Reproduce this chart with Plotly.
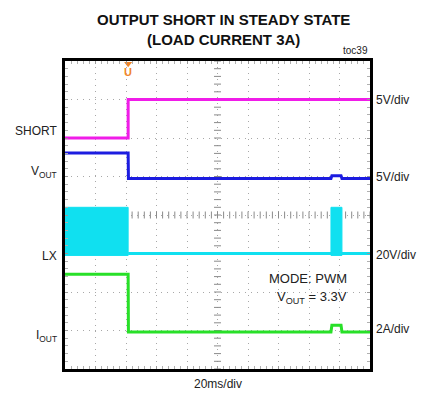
import numpy as np
import plotly.graph_objects as go

# ---- scope settings (divisions) ----
N_XDIV, N_YDIV = 10, 8
t_per_div = 20.0            # ms/div

# channel: (ground position in div, units per div)
ch_short = dict(ref=6.0, scale=5.0)
ch_vout = dict(ref=4.95, scale=5.0)
ch_lx = dict(ref=3.0, scale=20.0)
ch_iout = dict(ref=0.96, scale=2.0)

# ---- captured waveforms (time in ms) ----
t_short = [0, 41.4, 41.4, 200]
v_short = [0.0, 0.0, 5.0, 5.0]

t_vout = [0, 41.4, 41.6, 174.4, 175.0, 181.0, 181.6, 200]
v_vout = [3.3, 3.3, 0.0, 0.0, 0.35, 0.35, 0.0, 0.0]

t_iout = [0, 41.4, 41.6, 174.4, 175.0, 181.0, 181.6, 200]
i_iout = [3.0, 3.0, 0.0, 0.0, 0.35, 0.35, 0.0, 0.0]

# LX switching envelope (V): bursts drawn as filled bands
lx_bursts = [(0.0, 41.4), (174.4, 181.6)]
lx_high, lx_low = 24.0, -1.0
t_lx = [41.4, 200]
v_lx = [0.0, 0.0]


def to_div(vals, ch):
    return [ch["ref"] + v / ch["scale"] for v in vals]


def to_xdiv(ts):
    return [t / t_per_div for t in ts]


C_SHORT = "#F01CE8"
C_VOUT = "#1C1CE0"
C_LX = "#10E0F0"
C_IOUT = "#28E028"
C_TRIG = "#F0862A"

fig = go.Figure()

# graticule centre-line ticks
tick_pos = np.arange(0, N_XDIV + 0.001, 0.2)
fig.add_trace(go.Scatter(x=tick_pos, y=[N_YDIV / 2] * len(tick_pos), mode="markers",
                         marker=dict(symbol="line-ns", size=5, line=dict(color="#8a8a8a", width=1)),
                         hoverinfo="skip", showlegend=False))
ytick_pos = np.arange(0, N_YDIV + 0.001, 0.2)
fig.add_trace(go.Scatter(x=[N_XDIV / 2] * len(ytick_pos), y=ytick_pos, mode="markers",
                         marker=dict(symbol="line-ew", size=5, line=dict(color="#8a8a8a", width=1)),
                         hoverinfo="skip", showlegend=False))

# LX switching bursts
for t0, t1 in lx_bursts:
    xs = to_xdiv([t0, t1, t1, t0, t0])
    ys = to_div([lx_high, lx_high, lx_low, lx_low, lx_high], ch_lx)
    fig.add_trace(go.Scatter(x=xs, y=ys, mode="lines", fill="toself", fillcolor=C_LX,
                             line=dict(color=C_LX, width=1), hoverinfo="skip", showlegend=False))
fig.add_trace(go.Scatter(x=to_xdiv(t_lx), y=to_div(v_lx, ch_lx), mode="lines",
                         line=dict(color=C_LX, width=3), showlegend=False))

fig.add_trace(go.Scatter(x=to_xdiv(t_short), y=to_div(v_short, ch_short), mode="lines",
                         line=dict(color=C_SHORT, width=3), showlegend=False))
fig.add_trace(go.Scatter(x=to_xdiv(t_vout), y=to_div(v_vout, ch_vout), mode="lines",
                         line=dict(color=C_VOUT, width=3), showlegend=False))
fig.add_trace(go.Scatter(x=to_xdiv(t_iout), y=to_div(i_iout, ch_iout), mode="lines",
                         line=dict(color=C_IOUT, width=3), showlegend=False))

# trigger marker
trig_x = 41.4 / t_per_div
fig.add_trace(go.Scatter(x=[trig_x], y=[7.93], mode="markers",
                         marker=dict(symbol="triangle-down", size=7, color=C_TRIG),
                         hoverinfo="skip", showlegend=False, cliponaxis=False))
fig.add_annotation(x=trig_x, y=7.72, text="<b>U</b>", showarrow=False,
                   font=dict(color=C_TRIG, size=11, family="Liberation Sans"))

lab_font = dict(family="Liberation Sans, Arial", size=12, color="#222222")
left_labels = [("SHORT", 0.773), ("V<sub>OUT</sub>", 0.64), ("LX", 0.367), ("I<sub>OUT</sub>", 0.107)]
for txt, y in left_labels:
    fig.add_annotation(xref="paper", yref="paper", x=-0.02, y=y, text=txt, showarrow=False,
                       xanchor="right", yanchor="middle", font=lab_font)
right_labels = [("5V/div", 0.873), ("5V/div", 0.623), ("20V/div", 0.37), ("2A/div", 0.13)]
for txt, y in right_labels:
    fig.add_annotation(xref="paper", yref="paper", x=1.012, y=y, text=txt, showarrow=False,
                       xanchor="left", yanchor="middle", font=lab_font)

mode_font = dict(family="Liberation Sans, Arial", size=13, color="#222222")
fig.add_annotation(x=9.3, y=2.35, text="MODE: PWM", showarrow=False, xanchor="right",
                   font=mode_font)
fig.add_annotation(x=9.3, y=1.86, text="V<sub>OUT</sub> = 3.3V", showarrow=False,
                   xanchor="right", font=mode_font)
fig.add_annotation(xref="paper", yref="paper", x=0.5, y=-0.049, text="20ms/div",
                   showarrow=False, yanchor="middle",
                   font=dict(family="Liberation Sans, Arial", size=12, color="#222222"))
fig.add_annotation(xref="paper", yref="paper", x=1.0, y=1.01, text="toc39", showarrow=False,
                   xanchor="right", yanchor="bottom",
                   font=dict(family="Liberation Sans, Arial", size=10, color="#222222"))

fig.add_annotation(xref="paper", yref="paper", x=0.5, y=1.0, yshift=32, xshift=6,
                   yanchor="middle",
                   text="<b>OUTPUT SHORT IN STEADY STATE<br>(LOAD CURRENT 3A)</b>",
                   showarrow=False,
                   font=dict(family="Liberation Sans Narrow, Arial Narrow, Liberation Sans",
                             size=15, color="#111111"))

axis_common = dict(showline=True, linecolor="black", linewidth=3, mirror="ticks",
                   ticks="inside", ticklen=3, tickcolor="#9a9a9a", showticklabels=False,
                   showgrid=True, gridcolor="#a8a8a8", griddash="1px,5px", gridwidth=1,
                   zeroline=False, fixedrange=True,
                   minor=dict(ticks="inside", ticklen=3, tickcolor="#b0b0b0", dtick=0.2,
                              showgrid=False))
fig.update_xaxes(range=[0, N_XDIV], dtick=1, tick0=0, **axis_common)
fig.update_yaxes(range=[0, N_YDIV], dtick=1, tick0=0, **axis_common)

fig.update_layout(width=434, height=396, margin=dict(l=65, r=64, t=61, b=27),
                  plot_bgcolor="white", paper_bgcolor="white", showlegend=False)

fig.write_html("out.html")
